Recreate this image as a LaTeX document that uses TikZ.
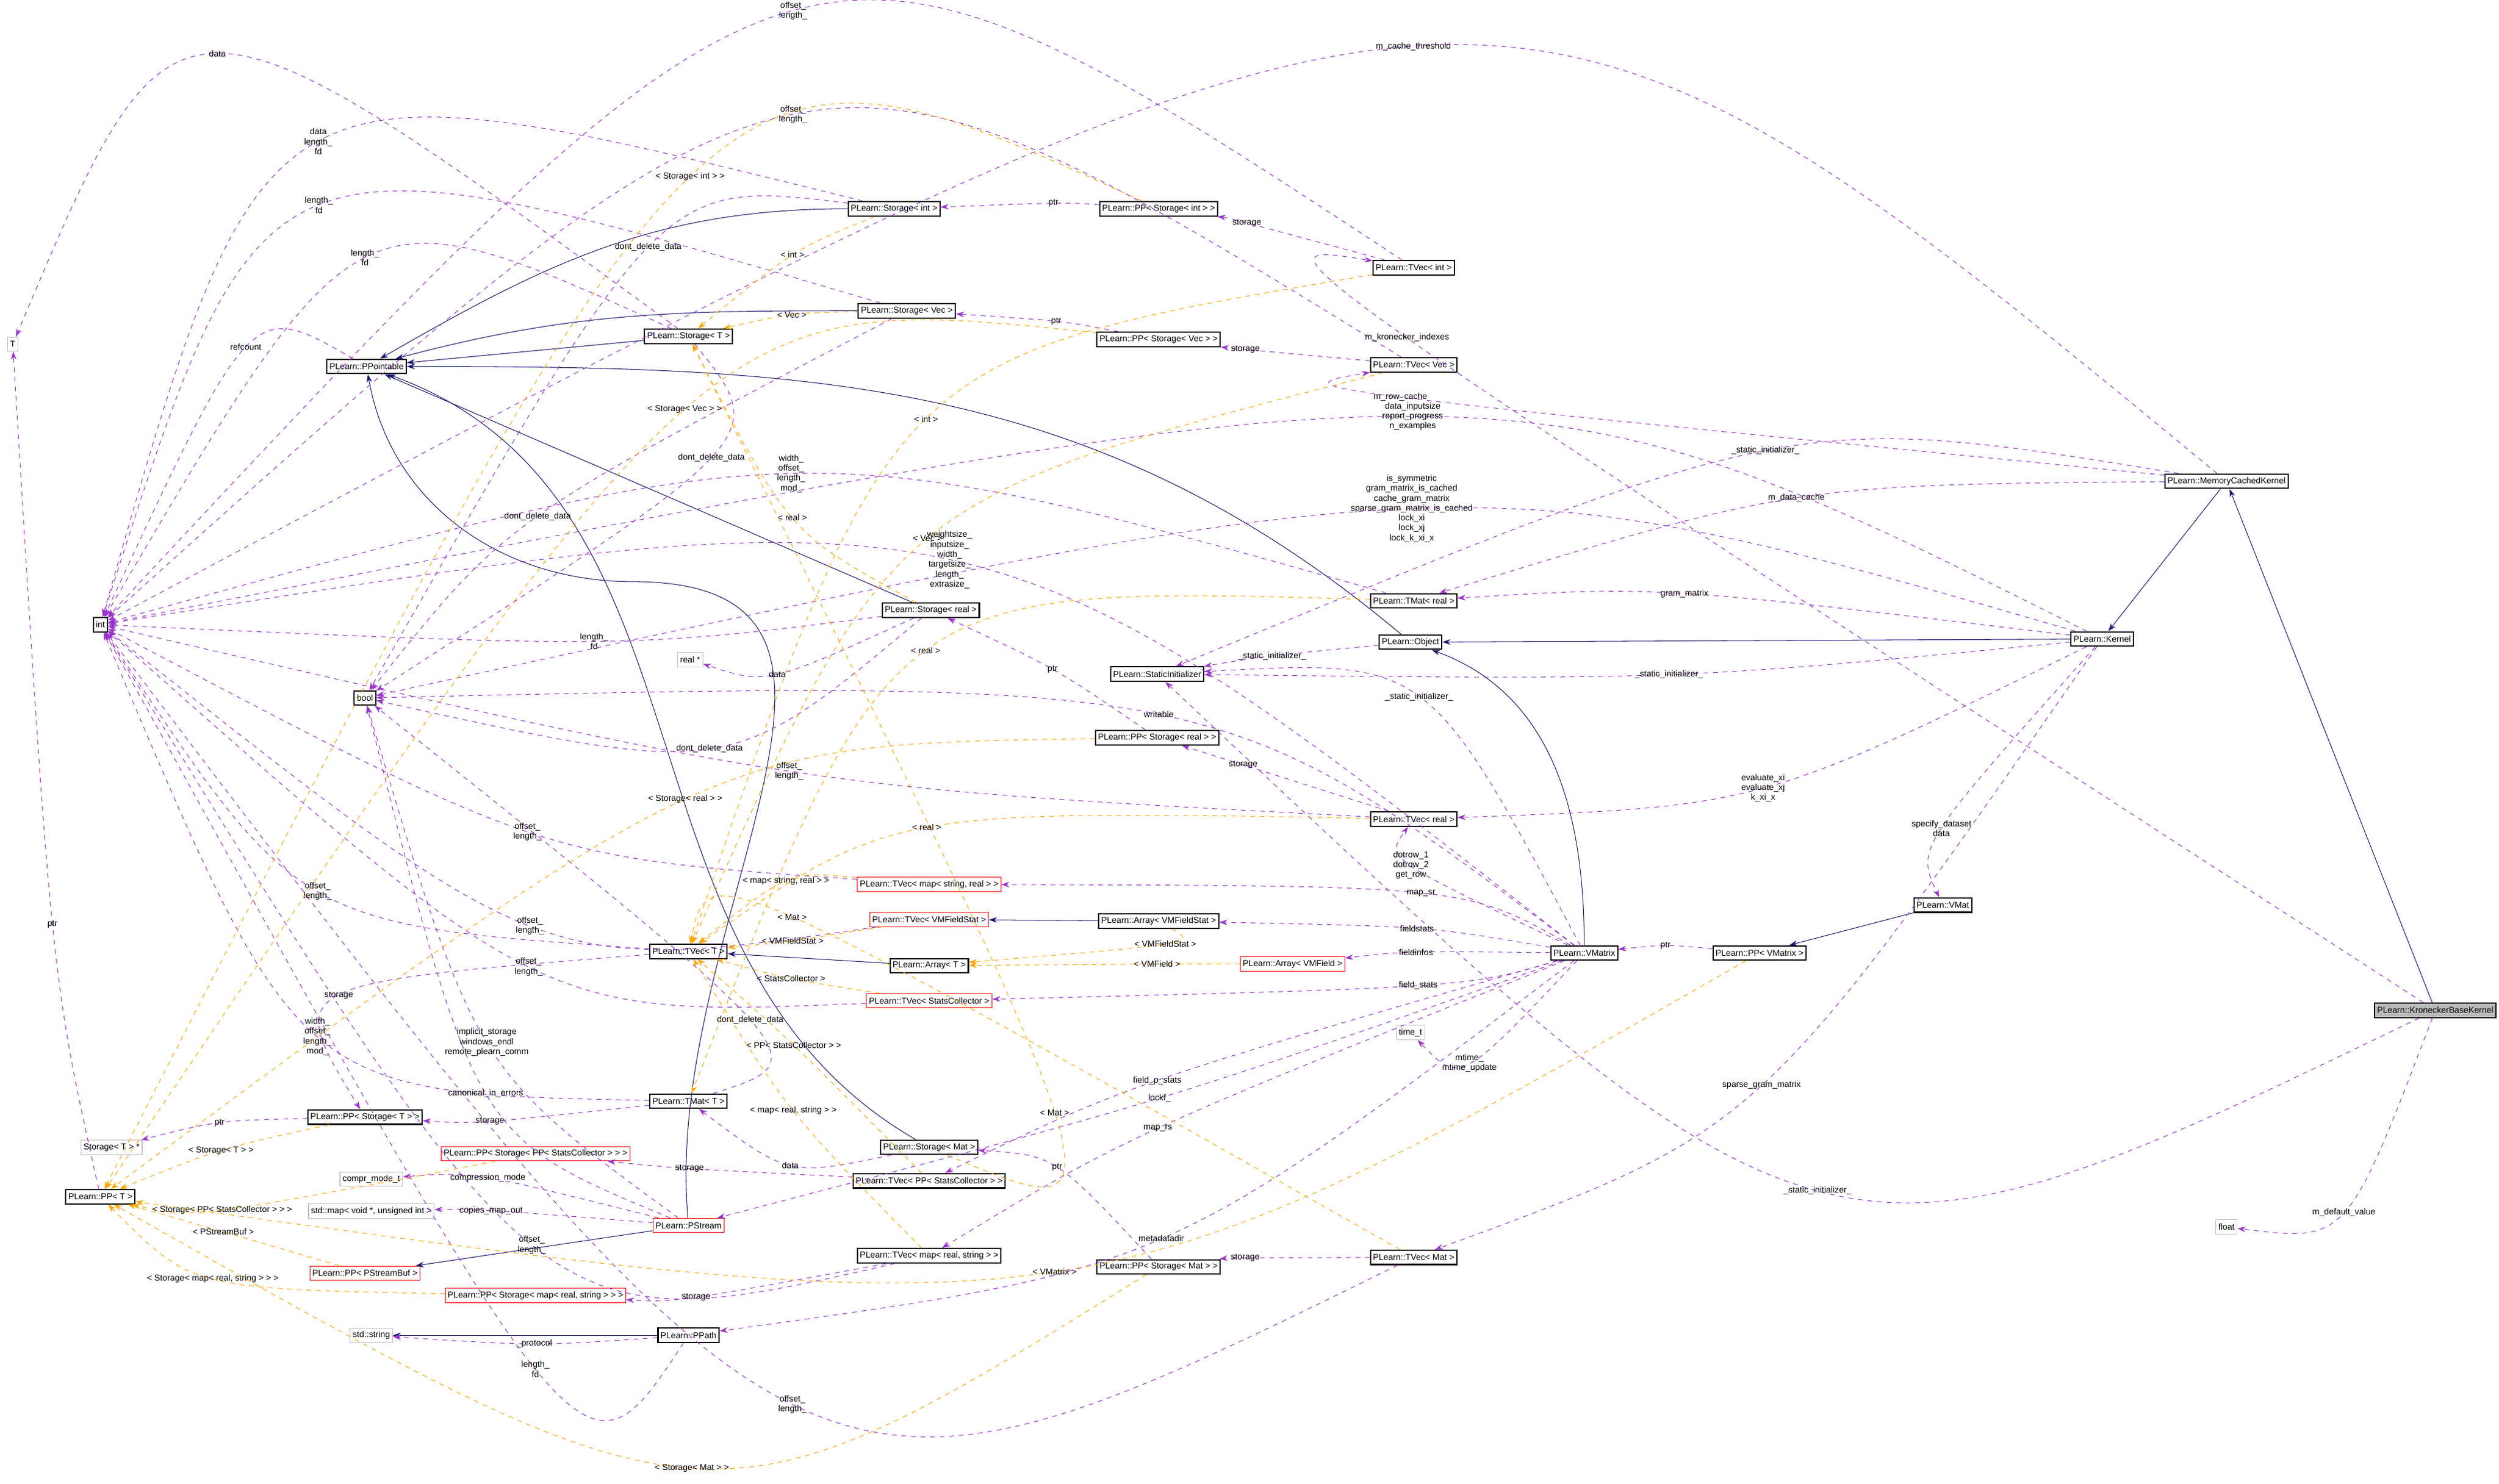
\documentclass[tikz,border=0pt]{standalone}
\usepackage{fontspec}
\setmainfont{Liberation Sans}
\usetikzlibrary{calc,arrows.meta}
\definecolor{usecol}{HTML}{9A32CD}
\definecolor{tmplcol}{HTML}{FFA500}
\definecolor{inhcol}{HTML}{191970}
\tikzset{>={Stealth[length=5pt,width=3.5pt]},
  cls/.style={draw,fill=white,thick,inner sep=1.6pt,minimum height=9pt,font=\fontsize{5.4}{6}\selectfont},
  redcls/.style={cls,draw=red,thin},
  extcls/.style={cls,draw=gray!50,thin},
  maincls/.style={cls,fill=gray!55},
  lbl/.style={font=\fontsize{5.4}{6.2}\selectfont,align=center,inner sep=0.5pt},
  use/.style={->,dashed,usecol,thin},
  tmpl/.style={->,dashed,tmplcol,thin},
  inh/.style={->,inhcol,thin}}
% edge through a label point
\newcommand\lnk[5][use]{\draw[#1] (#2) .. controls ($4/3*(#4)-1/6*(#2)-1/6*(#3)$) .. (#3) node[pos=0.5,lbl,text=black]{#5};}

\begin{document}
\begin{tikzpicture}[x=1pt,y=-1pt]
\useasboundingbox (0,0) rectangle (1568,931);

% Leaf types
\node[extcls] (T) at (8,216) {T};
\node[cls] (int) at (63,392) {int};
\node[cls] (bool) at (229,438) {bool};
\node[extcls] (realp) at (433,414) {real *};
\node[extcls] (timet) at (885,648) {time\_t};
\node[extcls] (flt) at (1397,770) {float};
\node[extcls] (StorTp) at (70,720) {Storage< T > *};
\node[extcls] (cmode) at (233,740) {compr\_mode\_t};
\node[extcls] (stdmap) at (233,760) {std::map< void *, unsigned int >};
\node[extcls] (stdstr) at (233,838) {std::string};

% Storage classes
\node[cls] (PPointable) at (230,230) {PLearn::PPointable};
\node[cls] (StorT) at (432,211) {PLearn::Storage< T >};
\node[cls] (StorInt) at (561,131) {PLearn::Storage< int >};
\node[cls] (StorVec) at (569,195) {PLearn::Storage< Vec >};
\node[cls] (StorReal) at (584,383) {PLearn::Storage< real >};
\node[cls] (StorMat) at (583,720) {PLearn::Storage< Mat >};
\node[cls] (PPStorInt) at (727,131) {PLearn::PP< Storage< int > >};
\node[cls] (PPStorVec) at (727,213) {PLearn::PP< Storage< Vec > >};
\node[cls] (PPStorReal) at (726,463) {PLearn::PP< Storage< real > >};
\node[cls] (PPStorMat) at (727,795) {PLearn::PP< Storage< Mat > >};
\node[cls] (PPStorT) at (229,701) {PLearn::PP< Storage< T > >};
\node[redcls] (PPStorSC) at (336,724) {PLearn::PP< Storage< PP< StatsCollector > > >};
\node[redcls] (PPStorMRS) at (336,813) {PLearn::PP< Storage< map< real, string > > >};
\node[redcls] (PPBuf) at (229,799) {PLearn::PP< PStreamBuf >};
\node[cls] (PPT) at (63,751) {PLearn::PP< T >};

% Vectors and matrices
\node[cls] (TVecInt) at (887,168) {PLearn::TVec< int >};
\node[cls] (TVecVec) at (887,229) {PLearn::TVec< Vec >};
\node[cls] (TVecReal) at (887,514) {PLearn::TVec< real >};
\node[cls] (TVecMat) at (887,789) {PLearn::TVec< Mat >};
\node[cls] (TMatReal) at (887,377) {PLearn::TMat< real >};
\node[cls] (TVecT) at (432,597) {PLearn::TVec< T >};
\node[cls] (TMatT) at (432,691) {PLearn::TMat< T >};
\node[redcls] (TVecMSR) at (583,555) {PLearn::TVec< map< string, real > >};
\node[redcls] (TVecVFS) at (583,577) {PLearn::TVec< VMFieldStat >};
\node[redcls] (TVecSC) at (583,628) {PLearn::TVec< StatsCollector >};
\node[cls] (TVecPPSC) at (583,741) {PLearn::TVec< PP< StatsCollector > >};
\node[cls] (TVecMRS) at (583,788) {PLearn::TVec< map< real, string > >};
\node[cls] (ArrT) at (583,606) {PLearn::Array< T >};
\node[cls] (ArrVFS) at (727,578) {PLearn::Array< VMFieldStat >};
\node[redcls] (ArrVF) at (811,605) {PLearn::Array< VMField >};

% Streams and objects
\node[redcls] (PStream) at (432,769) {PLearn::PStream};
\node[cls] (PPath) at (432,838) {PLearn::PPath};
\node[cls] (Object) at (885,403) {PLearn::Object};
\node[cls] (StatInit) at (726,423) {PLearn::StaticInitializer};
\node[cls] (VMatrix) at (994,598) {PLearn::VMatrix};
\node[cls] (PPVMatrix) at (1104,598) {PLearn::PP< VMatrix >};
\node[cls] (VMat) at (1219,568) {PLearn::VMat};
\node[cls] (Kernel) at (1319,401) {PLearn::Kernel};
\node[cls] (MCKernel) at (1397,302) {PLearn::MemoryCachedKernel};
\node[maincls] (KBKernel) at (1528,634) {PLearn::KroneckerBaseKernel};

% Inheritance
\draw[inh] (StorInt) to[out=180,in=30] (PPointable);
\draw[inh] (StorVec) to[out=180,in=15] (PPointable);
\draw[inh] (StorT) -- (PPointable);
\draw[inh] (StorReal) -- (PPointable);
\draw[inh] (Object) to[out=140,in=0] (PPointable);
\draw[inh] (PStream) to[out=95,in=0,looseness=1.2] (397,365) to[out=180,in=-80] (PPointable);
\draw[inh] (StorMat) to[out=150,in=-20] (PPointable);
\draw[inh] (Kernel) -- (Object);
\draw[inh] (VMatrix) to[out=90,in=-20] (Object);
\draw[inh] (MCKernel) -- (Kernel);
\draw[inh] (KBKernel) -- (MCKernel);
\draw[inh] (VMat) -- (PPVMatrix);
\draw[inh] (ArrVFS) -- (TVecVFS);
\draw[inh] (ArrT) -- (TVecT);
\draw[inh] (PStream) -- (PPBuf);
\draw[inh] (PPath) -- (stdstr);

% Members of the storage classes
\lnk{StorInt}{int}{202,90}{data\\length\_\\fd}
\lnk{StorVec}{int}{202,130}{length\_\\fd}
\lnk{StorT}{int}{230,163}{length\_\\fd}
\lnk{PPointable}{int}{155,219}{refcount}
\lnk{StorReal}{int}{376,402}{length\_\\fd}
\lnk{StorInt}{bool}{410,156}{dont\_delete\_data}
\lnk{StorT}{bool}{445,287}{dont\_delete\_data}
\lnk{StorVec}{bool}{338,324}{dont\_delete\_data}
\lnk{StorReal}{bool}{445,469}{dont\_delete\_data}
\lnk{StorReal}{realp}{488,422}{data}
\lnk{StorT}{T}{137,35}{data}
\lnk{PPT}{T}{33,580}{ptr}
\lnk{StorMat}{TMatT}{498,730}{data}
\lnk{PPStorInt}{StorInt}{662,128}{ptr}
\lnk{PPStorVec}{StorVec}{662,202}{ptr}
\lnk{PPStorReal}{StorReal}{660,420}{ptr}
\lnk{PPStorMat}{StorMat}{660,733}{ptr}
\lnk{PPStorT}{StorTp}{140,705}{ptr}
\lnk{TVecInt}{PPStorInt}{780,140}{storage}
\lnk{TVecVec}{PPStorVec}{780,219}{storage}
\lnk{TVecReal}{PPStorReal}{780,480}{storage}
\lnk{TVecMat}{PPStorMat}{780,790}{storage}
\lnk{TVecT}{PPStorT}{216,625}{storage}
\lnk{TMatT}{PPStorT}{306,703}{storage}
\lnk{TVecPPSC}{PPStorSC}{433,733}{storage}
\lnk{TVecMRS}{PPStorMRS}{433,813}{storage}

% Sizes and offsets
\lnk{TVecInt}{int}{498,8}{offset\_\\length\_}
\lnk{TVecVec}{int}{498,73}{offset\_\\length\_}
\lnk{TMatReal}{int}{498,298}{width\_\\offset\_\\length\_\\mod\_}
\lnk{TVecReal}{int}{498,484}{offset\_\\length\_}
\lnk{TVecMSR}{int}{336,522}{offset\_\\length\_}
\lnk{TVecT}{int}{202,559}{offset\_\\length\_}
\lnk{TVecVFS}{int}{336,580}{offset\_\\length\_}
\lnk{TVecSC}{int}{336,606}{offset\_\\length\_}
\lnk{TMatT}{int}{202,650}{width\_\\offset\_\\length\_\\mod\_}
\lnk{TVecMRS}{int}{336,780}{offset\_\\length\_}
\lnk{TVecMat}{int}{498,880}{offset\_\\length\_}
\lnk{TMatT}{bool}{468,640}{dont\_delete\_data}
\lnk{PPath}{int}{336,858}{length\_\\fd}

% Stream members
\lnk{PStream}{bool}{306,654}{implicit\_storage\\windows\_endl\\remote\_plearn\_comm}
\lnk{PStream}{bool}{306,686}{canonical\_in\_errors}
\lnk{PStream}{cmode}{306,740}{compression\_mode}
\lnk{PStream}{stdmap}{306,760}{copies\_map\_out}
\lnk{PPath}{stdstr}{336,843}{\_protocol}

% Kernel members
\lnk{MCKernel}{int}{887,30}{m\_cache\_threshold}
\lnk{MCKernel}{TVecVec}{887,249}{m\_row\_cache}
\lnk{MCKernel}{TMatReal}{1130,313}{m\_data\_cache}
\lnk{MCKernel}{StatInit}{1110,284}{\_static\_initializer\_}
\lnk{KBKernel}{TVecInt}{887,213}{m\_kronecker\_indexes}
\lnk{KBKernel}{StatInit}{1141,746}{\_static\_initializer\_}
\lnk{KBKernel}{flt}{1470,760}{m\_default\_value}
\lnk{Kernel}{int}{887,262}{data\_inputsize\\report\_progress\\n\_examples}
\lnk{Kernel}{bool}{887,320}{is\_symmetric\\gram\_matrix\_is\_cached\\cache\_gram\_matrix\\sparse\_gram\_matrix\_is\_cached\\lock\_xi\\lock\_xj\\lock\_k\_xi\_x}
\lnk{Kernel}{TMatReal}{1056,373}{gram\_matrix}
\lnk{Kernel}{StatInit}{1046,423}{\_static\_initializer\_}
\lnk{Kernel}{TVecReal}{1104,494}{evaluate\_xi\\evaluate\_xj\\k\_xi\_x}
\lnk{Kernel}{VMat}{1219,520}{specify\_dataset\\data}
\lnk{Kernel}{TVecMat}{1104,681}{sparse\_gram\_matrix}
\lnk{Object}{StatInit}{797,412}{\_static\_initializer\_}

% VMatrix members
\lnk{VMatrix}{int}{596,352}{weightsize\_\\inputsize\_\\width\_\\targetsize\_\\length\_\\extrasize\_}
\lnk{VMatrix}{bool}{727,449}{writable}
\lnk{VMatrix}{StatInit}{887,438}{\_static\_initializer\_}
\lnk{VMatrix}{TVecReal}{887,543}{dotrow\_1\\dotrow\_2\\get\_row}
\lnk{VMatrix}{TVecMSR}{887,561}{map\_sr}
\lnk{VMatrix}{ArrVFS}{887,583}{fieldstats}
\lnk{VMatrix}{ArrVF}{887,598}{fieldinfos}
\lnk{VMatrix}{TVecSC}{887,618}{field\_stats}
\lnk{VMatrix}{timet}{922,666}{mtime\_\\mtime\_update}
\lnk{VMatrix}{TVecPPSC}{727,678}{field\_p\_stats}
\lnk{VMatrix}{PStream}{727,689}{lockf\_}
\lnk{VMatrix}{TVecMRS}{727,708}{map\_rs}
\lnk{VMatrix}{PPath}{727,777}{metadatadir}
\lnk{PPVMatrix}{VMatrix}{1046,594}{ptr}

% Template instances
\lnk[tmpl]{StorInt}{StorT}{498,160}{< int >}
\lnk[tmpl]{StorVec}{StorT}{498,198}{< Vec >}
\lnk[tmpl]{StorReal}{StorT}{498,325}{< real >}
\lnk[tmpl]{StorMat}{StorT}{660,697}{< Mat >}
\lnk[tmpl]{TVecInt}{TVecT}{584,263}{< int >}
\lnk[tmpl]{TVecVec}{TVecT}{584,338}{< Vec >}
\lnk[tmpl]{TVecReal}{TVecT}{584,520}{< real >}
\lnk[tmpl]{TVecMat}{TVecT}{498,577}{< Mat >}
\lnk[tmpl]{TMatReal}{TMatT}{584,409}{< real >}
\lnk[tmpl]{TVecMSR}{TVecT}{498,554}{< map< string, real > >}
\lnk[tmpl]{TVecVFS}{TVecT}{498,590}{< VMFieldStat >}
\lnk[tmpl]{TVecSC}{TVecT}{498,614}{< StatsCollector >}
\lnk[tmpl]{TVecPPSC}{TVecT}{498,656}{< PP< StatsCollector > >}
\lnk[tmpl]{TVecMRS}{TVecT}{498,697}{< map< real, string > >}
\lnk[tmpl]{ArrVFS}{ArrT}{727,592}{< VMFieldStat >}
\lnk[tmpl]{ArrVF}{ArrT}{727,605}{< VMField >}
\lnk[tmpl]{PPStorInt}{PPT}{434,112}{< Storage< int > >}
\lnk[tmpl]{PPStorVec}{PPT}{434,258}{< Storage< Vec > >}
\lnk[tmpl]{PPStorReal}{PPT}{434,502}{< Storage< real > >}
\lnk[tmpl]{PPStorT}{PPT}{140,722}{< Storage< T > >}
\lnk[tmpl]{PPStorSC}{PPT}{140,758}{< Storage< PP< StatsCollector > > >}
\lnk[tmpl]{PPBuf}{PPT}{140,773}{< PStreamBuf >}
\lnk[tmpl]{PPStorMRS}{PPT}{140,802}{< Storage< map< real, string > > >}
\lnk[tmpl]{PPVMatrix}{PPT}{660,797}{< VMatrix >}
\lnk[tmpl]{PPStorMat}{PPT}{434,920}{< Storage< Mat > >}
\end{tikzpicture}
\end{document}
